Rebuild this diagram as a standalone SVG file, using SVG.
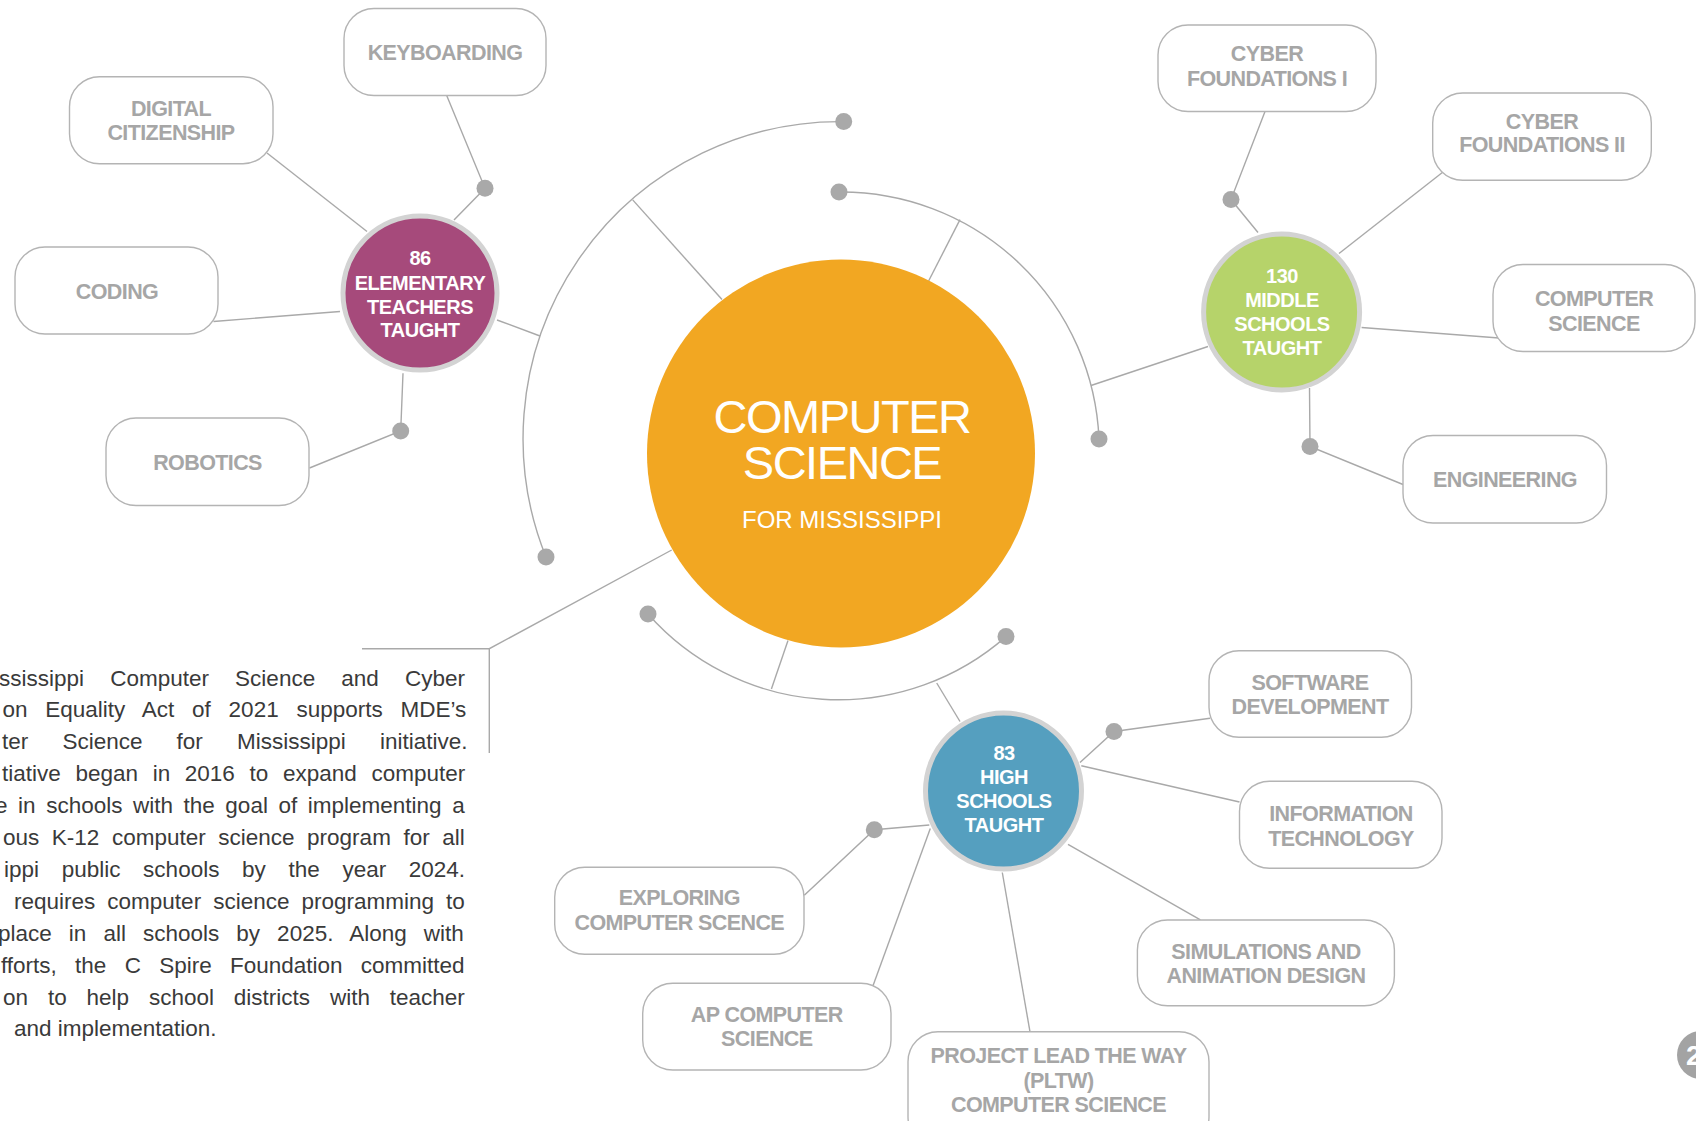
<svg xmlns="http://www.w3.org/2000/svg" width="1696" height="1121" viewBox="0 0 1696 1121">
<style>
.ln{fill:none;stroke:#a9a9a9;stroke-width:1.4}
.dot{fill:#a9a9a9}
.box{fill:#fff;stroke:#b4b4b4;stroke-width:1.4}
.lbl{font-family:"Liberation Sans",Arial,sans-serif;font-weight:700;font-size:21.5px;letter-spacing:-0.6px;fill:#a6a6a6;text-anchor:middle}
.ring{stroke:#d3d3d3;stroke-width:5}
.nt{font-family:"Liberation Sans",Arial,sans-serif;font-weight:700;font-size:20px;letter-spacing:-0.5px;fill:#fff;text-anchor:middle}
.ct{font-family:"Liberation Sans",Arial,sans-serif;fill:#fff;text-anchor:middle}
.body{font-family:"Liberation Sans",Arial,sans-serif;font-size:22.5px;fill:#3a3a3a}
</style>
<rect width="1696" height="1121" fill="#fff"/>
<g id="connectors">
  <path class="ln" d="M843.7 121.6 A317 317 0 0 0 546 557"/>
  <path class="ln" d="M839 192 A258 258 0 0 1 1099 439"/>
  <path class="ln" d="M648 614 A254 254 0 0 0 1006 636.6"/>
  <path class="ln" d="M632.7 199.9 L722 299.5"/>
  <path class="ln" d="M540 336 L497 320"/>
  <path class="ln" d="M960 219.6 L928.6 281"/>
  <path class="ln" d="M1091 385.5 L1208 346.5"/>
  <path class="ln" d="M771.4 689 L788 640.5"/>
  <path class="ln" d="M936.7 683 L960 721.5"/>
  <path class="ln" d="M671.7 550 L489.3 648.7 L362 648.7 M489.3 648.7 L489.3 753"/>
  <path class="ln" d="M446.7 95.5 L485 188.3 L454 220"/>
  <path class="ln" d="M267 153 L367 231.5"/>
  <path class="ln" d="M213.5 321.5 L340 311.5"/>
  <path class="ln" d="M309.5 468 L400.7 431 L403 373.2"/>
  <path class="ln" d="M1265 111.5 L1231 199.5 L1258 232.5"/>
  <path class="ln" d="M1339 253.5 L1443 172"/>
  <path class="ln" d="M1361.6 327.5 L1499 338"/>
  <path class="ln" d="M1309.5 388 L1310 446.5 L1403 484.5"/>
  <path class="ln" d="M1080 762.5 L1114 731.5 L1210 718.3"/>
  <path class="ln" d="M1081.3 765.7 L1239.5 802"/>
  <path class="ln" d="M1068 844.3 L1200.4 919.8"/>
  <path class="ln" d="M1002.3 872.5 L1030 1031.8"/>
  <path class="ln" d="M930.3 828.4 L873 985.7"/>
  <path class="ln" d="M929.3 825 L874.3 829.8 L804.3 895.3"/>
  <circle class="dot" cx="843.7" cy="121.6" r="8.5"/>
  <circle class="dot" cx="546" cy="557" r="8.5"/>
  <circle class="dot" cx="839" cy="192" r="8.5"/>
  <circle class="dot" cx="1099" cy="439" r="8.5"/>
  <circle class="dot" cx="648" cy="614" r="8.5"/>
  <circle class="dot" cx="1006" cy="636.6" r="8.5"/>
  <circle class="dot" cx="485" cy="188.3" r="8.5"/>
  <circle class="dot" cx="400.7" cy="431" r="8.5"/>
  <circle class="dot" cx="1231" cy="199.5" r="8.5"/>
  <circle class="dot" cx="1310" cy="446.5" r="8.5"/>
  <circle class="dot" cx="1114" cy="731.5" r="8.5"/>
  <circle class="dot" cx="874.3" cy="829.8" r="8.5"/>
</g>
<g id="center">
  <circle cx="841" cy="453.5" r="194" fill="#f2a722"/>
  <text class="ct" x="842" y="433" font-size="47" letter-spacing="-1.5">COMPUTER</text>
  <text class="ct" x="842" y="479" font-size="47" letter-spacing="-1.5">SCIENCE</text>
  <text class="ct" x="842" y="527.5" font-size="24">FOR MISSISSIPPI</text>
</g>
<g id="elementary">
  <circle class="ring" cx="420" cy="293" r="77" fill="#a64a7b"/>
  <text class="nt" x="420" y="265">86</text>
  <text class="nt" x="420" y="289.5">ELEMENTARY</text>
  <text class="nt" x="420" y="313.5">TEACHERS</text>
  <text class="nt" x="420" y="337">TAUGHT</text>
</g>
<g id="middle">
  <circle class="ring" cx="1281.6" cy="312" r="78" fill="#b6d36a"/>
  <text class="nt" x="1282" y="283">130</text>
  <text class="nt" x="1282" y="307">MIDDLE</text>
  <text class="nt" x="1282" y="331">SCHOOLS</text>
  <text class="nt" x="1282" y="355">TAUGHT</text>
</g>
<g id="high">
  <circle class="ring" cx="1003.5" cy="791" r="78" fill="#559fbf"/>
  <text class="nt" x="1004" y="760">83</text>
  <text class="nt" x="1004" y="784">HIGH</text>
  <text class="nt" x="1004" y="808">SCHOOLS</text>
  <text class="nt" x="1004" y="832">TAUGHT</text>
</g>
<g id="keyboarding"><rect class="box" x="344" y="8.5" width="202" height="87" rx="30"/><text class="lbl" x="445" y="59.5">KEYBOARDING</text></g>
<g id="digital-citizenship"><rect class="box" x="69.5" y="76.7" width="203.5" height="87" rx="30"/><text class="lbl" x="171" y="115.5">DIGITAL</text><text class="lbl" x="171" y="140">CITIZENSHIP</text></g>
<g id="coding"><rect class="box" x="15" y="247" width="203" height="87" rx="30"/><text class="lbl" x="117" y="299">CODING</text></g>
<g id="robotics"><rect class="box" x="106" y="418" width="203" height="87.5" rx="30"/><text class="lbl" x="207.5" y="470">ROBOTICS</text></g>
<g id="cyber-foundations-1"><rect class="box" x="1158" y="25" width="218" height="86.5" rx="30"/><text class="lbl" x="1267" y="61">CYBER</text><text class="lbl" x="1267" y="86">FOUNDATIONS I</text></g>
<g id="cyber-foundations-2"><rect class="box" x="1432.7" y="93" width="218.6" height="87.3" rx="30"/><text class="lbl" x="1542" y="128.5">CYBER</text><text class="lbl" x="1542" y="152">FOUNDATIONS II</text></g>
<g id="computer-science"><rect class="box" x="1493" y="264.5" width="202" height="87" rx="30"/><text class="lbl" x="1594" y="306">COMPUTER</text><text class="lbl" x="1594" y="330.5">SCIENCE</text></g>
<g id="engineering"><rect class="box" x="1403" y="435.5" width="203.5" height="87.5" rx="30"/><text class="lbl" x="1505" y="487">ENGINEERING</text></g>
<g id="software-development"><rect class="box" x="1209" y="650.7" width="202.5" height="86.6" rx="30"/><text class="lbl" x="1310" y="689.5">SOFTWARE</text><text class="lbl" x="1310" y="714">DEVELOPMENT</text></g>
<g id="information-technology"><rect class="box" x="1239.5" y="781.3" width="202.5" height="87" rx="30"/><text class="lbl" x="1341" y="821">INFORMATION</text><text class="lbl" x="1341" y="845.5">TECHNOLOGY</text></g>
<g id="simulations"><rect class="box" x="1137.4" y="920" width="257" height="85.7" rx="30"/><text class="lbl" x="1266" y="958.5">SIMULATIONS AND</text><text class="lbl" x="1266" y="983">ANIMATION DESIGN</text></g>
<g id="exploring"><rect class="box" x="554.7" y="867.3" width="249.3" height="87" rx="30"/><text class="lbl" x="679.3" y="905">EXPLORING</text><text class="lbl" x="679.3" y="929.5">COMPUTER SCENCE</text></g>
<g id="ap-computer-science"><rect class="box" x="642.7" y="983.3" width="248.3" height="86.7" rx="30"/><text class="lbl" x="766.8" y="1021.5">AP COMPUTER</text><text class="lbl" x="766.8" y="1046">SCIENCE</text></g>
<g id="pltw"><rect class="box" x="908" y="1031.7" width="301" height="115" rx="30"/><text class="lbl" x="1058.5" y="1063">PROJECT LEAD THE WAY</text><text class="lbl" x="1058.5" y="1087.5">(PLTW)</text><text class="lbl" x="1058.5" y="1112">COMPUTER SCIENCE</text></g>
<g id="paragraph" class="body">
  <text x="-1" y="685.5" word-spacing="19.9">ssissippi Computer Science and Cyber</text>
  <text x="2.5" y="717.4" word-spacing="11.5">on Equality Act of 2021 supports MDE’s</text>
  <text x="2" y="749.3" word-spacing="27.9">ter Science for Mississippi initiative.</text>
  <text x="2" y="781.2" word-spacing="8.4">tiative began in 2016 to expand computer</text>
  <text x="-5" y="813.1" word-spacing="4.3">e in schools with the goal of implementing a</text>
  <text x="3" y="845" word-spacing="6.3">ous K-12 computer science program for all</text>
  <text x="4" y="876.9" word-spacing="16.4">ippi public schools by the year 2024.</text>
  <text x="14" y="908.8" word-spacing="5.8">requires computer science programming to</text>
  <text x="-2" y="940.7" word-spacing="10.8">place in all schools by 2025. Along with</text>
  <text x="1" y="972.6" word-spacing="12">fforts, the C Spire Foundation committed</text>
  <text x="3" y="1004.5" word-spacing="13.6">on to help school districts with teacher</text>
  <text x="14" y="1036.4">and implementation.</text>
</g>
<g id="page-number">
  <circle cx="1701" cy="1055" r="24" fill="#a3a3a3"/>
  <text x="1686" y="1065" font-family="Liberation Sans,Arial,sans-serif" font-weight="700" font-size="28" fill="#fff">2</text>
</g>
</svg>
